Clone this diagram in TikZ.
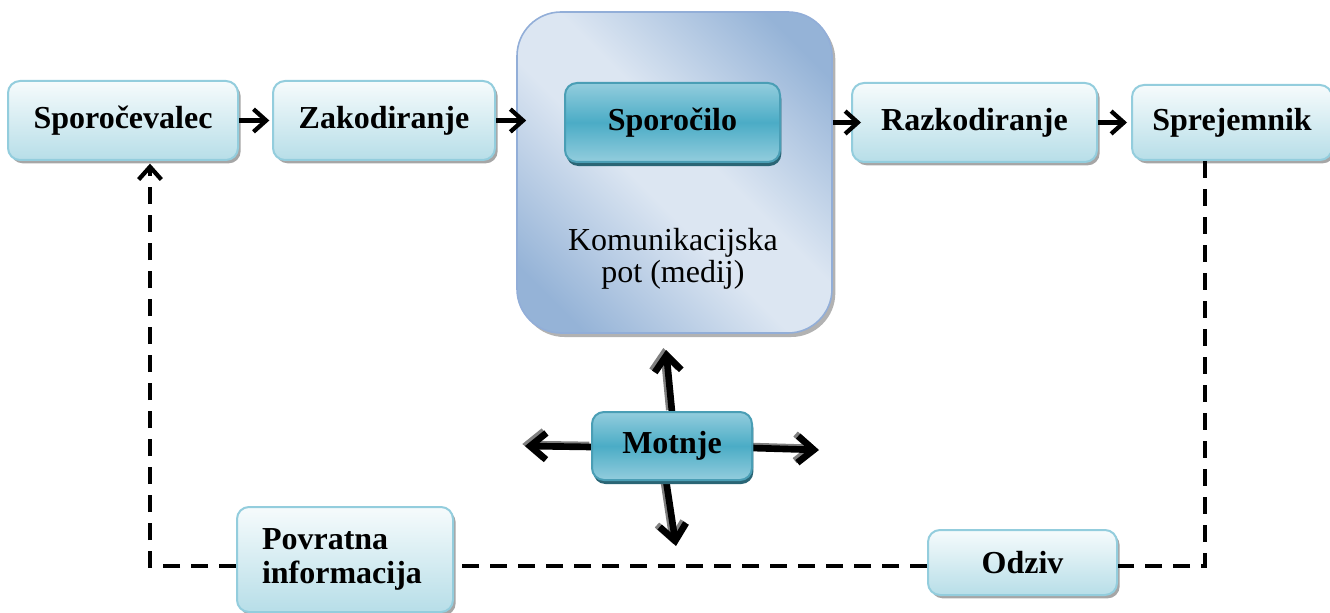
\documentclass[tikz,border=0pt]{standalone}
\usepackage{fontspec}
\setmainfont{Liberation Serif}
\usetikzlibrary{shadows,arrows.meta}
\definecolor{boxtop}{HTML}{F6FBFC}
\definecolor{boxbot}{HTML}{B7DEE8}
\definecolor{boxborder}{HTML}{93CDDD}
\definecolor{tealmid}{HTML}{4BACC6}
\definecolor{tealtop}{HTML}{93CDDD}
\definecolor{tealborder}{HTML}{4A9EB5}
\definecolor{tealshadow}{HTML}{2A6575}
\definecolor{bigdark}{HTML}{95B3D7}
\definecolor{biglight}{HTML}{DCE6F2}
\definecolor{bigborder}{HTML}{92AED8}
\pgfdeclarehorizontalshading{bigshade}{100bp}{color(0bp)=(bigdark); color(22bp)=(bigdark); color(45bp)=(biglight); color(55bp)=(biglight); color(78bp)=(bigdark); color(100bp)=(bigdark)}
\begin{document}
\begin{tikzpicture}[x=0.75pt,y=-0.75pt,
  lbox/.style={draw=boxborder, line width=1.5pt, rounded corners=9pt,
    top color=boxtop, bottom color=boxbot,
    drop shadow={shadow xshift=2pt, shadow yshift=-2.5pt, fill=black!35, opacity=1},
    font=\fontsize{24}{26}\selectfont\bfseries, inner sep=0pt},
  tbox/.style={draw=tealborder, line width=1.5pt, rounded corners=9pt,
    top color=tealtop, bottom color=tealtop, middle color=tealmid,
    drop shadow={shadow xshift=1pt, shadow yshift=-3pt, fill=tealshadow, opacity=1},
    font=\fontsize{24}{26}\selectfont\bfseries, inner sep=0pt},
  bigbox/.style={draw=bigborder, line width=1.2pt, rounded corners=33pt,
    shading=bigshade, shading angle=45,
    drop shadow={shadow xshift=2.5pt, shadow yshift=-3pt, fill=black!30, opacity=1},
    inner sep=0pt},
  flow/.style={line width=3.2pt, -{Straight Barb[length=9.5pt,width=17pt]}},
  fb/.style={line width=3.2pt, dash pattern=on 12.5pt off 8.5pt},
  fbarrow/.style={fb, -{Straight Barb[length=9.5pt,width=17pt]}},
  marrow/.style={line width=5pt, -{Straight Barb[length=12pt,width=20pt]}},
  mshadow/.style={marrow, draw=black!50, transform canvas={xshift=-2pt,yshift=1.5pt}},
  plain/.style={font=\fontsize{24}{24}\selectfont, align=center, inner sep=0pt}
]
\useasboundingbox (0,0) rectangle (1330,613);

% big medium box
\node[bigbox, minimum width=236.25pt, minimum height=240.75pt] (big) at (674.5,172.5) {};
\node[tbox, minimum width=161.25pt, minimum height=59.25pt] (msg) at (672.5,122.5) {Sporočilo};
\node[plain] (pot) at (673,259) {Komunikacijska\\pot (medij)};

% top row
\node[lbox, minimum width=172.5pt, minimum height=59.25pt] (spo) at (123,120.5) {Sporočevalec};
\node[lbox, minimum width=166.5pt, minimum height=59.25pt] (zak) at (384,120.5) {Zakodiranje};
\node[lbox, minimum width=183.75pt, minimum height=59.25pt] (raz) at (974.5,122.5) {Razkodiranje};
\node[lbox, minimum width=150pt, minimum height=56.25pt] (spr) at (1232,122.5) {Sprejemnik};

% bottom boxes
\node[lbox, minimum width=141.75pt, minimum height=48.75pt] (odz) at (1022.5,562.5) {Odziv};
\node[lbox, minimum width=162pt, minimum height=78.75pt, text width=124.5pt,
      inner xsep=18.75pt, align=left] (pov) at (345,559.5) {Povratna\\informacija};

% top flow arrows
\draw[flow, shorten >=2pt] (spo.east) -- (zak.west);
\draw[flow, shorten >=-7.5pt] (zak.east) -- (big.west |- zak.east);
\draw[flow, shorten >=-7.5pt] (big.east |- raz.west) -- (raz.west);
\draw[flow, shorten >=3pt] (raz.east) -- (spr.west);

% feedback loop
\coordinate (dr) at (1205,566);
\coordinate (dl) at (150,566);
\draw[fb] (spr.south -| dr) -- (dr) -- (odz.east |- dr);
\draw[fb] (odz.west |- dr) -- (pov.east |- dr);
\draw[fbarrow, shorten >=2pt] (pov.west |- dl) -- (dl) -- (spo.south -| dl);

% noise arrows
\coordinate (tu) at (666,350);
\coordinate (td) at (676,546);
\coordinate (tl) at (525,446);
\coordinate (tr) at (819,450);
\coordinate (mu) at (672,412);
\coordinate (md) at (666,480);
\coordinate (ml) at (592,447);
\coordinate (mr) at (752,448);
\draw[mshadow] (mu) -- (tu);
\draw[mshadow] (md) -- (td);
\draw[mshadow] (ml) -- (tl);
\draw[mshadow] (mr) -- (tr);
\draw[marrow] (mu) -- (tu);
\draw[marrow] (md) -- (td);
\draw[marrow] (ml) -- (tl);
\draw[marrow] (mr) -- (tr);
\node[tbox, minimum width=120pt, minimum height=51pt] (mot) at (672,446) {Motnje};
\end{tikzpicture}
\end{document}
